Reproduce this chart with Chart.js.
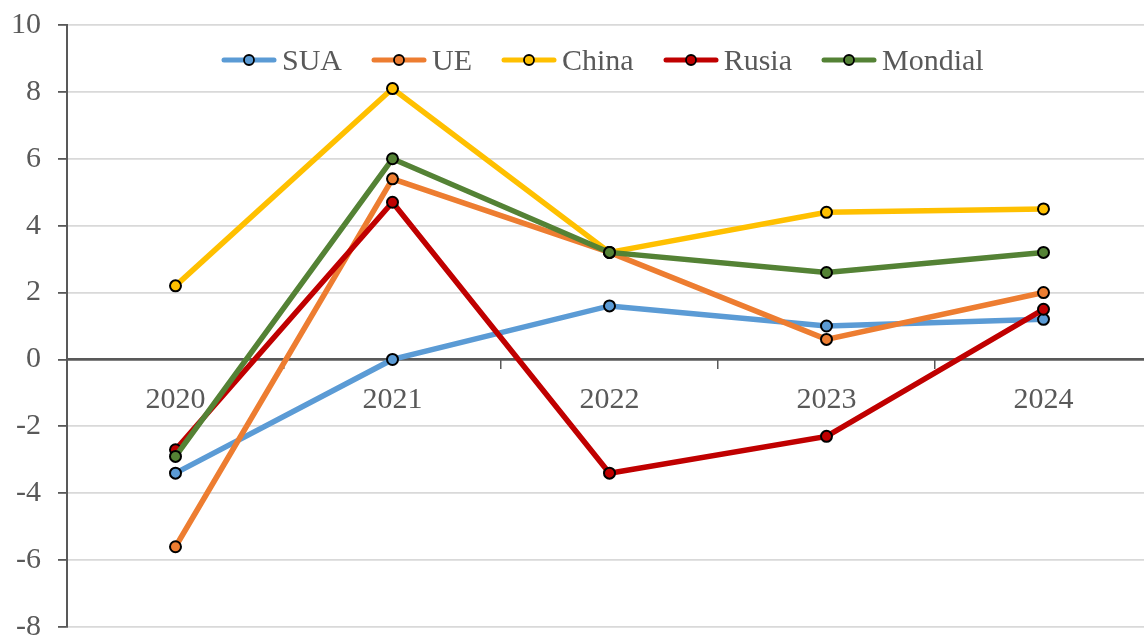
<!DOCTYPE html>
<html>
<head>
<meta charset="utf-8">
<script src="https://cdn.jsdelivr.net/npm/chart.js@4/dist/chart.umd.min.js"></script>
<style>
  html, body { margin: 0; padding: 0; background: #fff; overflow: hidden; }
  #wrap { position: absolute; left: 0; top: 0; width: 1160px; height: 645px; }
  #legend {
    position: absolute; left: 221px; top: 42px; height: 36px;
    display: flex; align-items: center;
    font-family: 'Liberation Serif', 'Times New Roman', serif; font-size: 30px; color: #595959;
  }
  #legend .item { display: flex; align-items: center; margin-right: 29px; }
  #legend svg { margin-right: 5px; }
</style>
</head>
<body>
<div id="wrap"><canvas id="chart"></canvas></div>
<div id="legend"></div>
<script>
// categories and series (annual growth, %)
const years = ['2020', '2021', '2022', '2023', '2024'];
const seriesNames = ['SUA', 'UE', 'China', 'Rusia', 'Mondial'];
const sua = [-3.4, 0.0, 1.6, 1.0, 1.2];
const ue = [-5.6, 5.4, 3.2, 0.6, 2.0];
const china = [2.2, 8.1, 3.2, 4.4, 4.5];
const rusia = [-2.7, 4.7, -3.4, -2.3, 1.5];
const mondial = [-2.9, 6.0, 3.2, 2.6, 3.2];
const colors = ['#5B9BD5', '#ED7D31', '#FFC000', '#C00000', '#548235'];

const yMin = -8, yMax = 10, yStep = 2;
const gray = '#595959';
const font = { family: "'Liberation Serif', 'Times New Roman', serif", size: 30 };

const values = [sua, ue, china, rusia, mondial];

const datasets = values.map((v, i) => ({
    label: seriesNames[i],
    data: v,
    borderColor: colors[i],
    backgroundColor: colors[i],
    borderWidth: 5.5,
    pointRadius: 5.5,
    pointBorderWidth: 2,
    pointBorderColor: '#000',
    pointBackgroundColor: colors[i],
    order: values.length - i   // later series drawn on top, like the original
}));

new Chart(document.getElementById('chart'), {
    type: 'line',
    data: { labels: years, datasets: datasets },
    options: {
        responsive: true,
        maintainAspectRatio: false,
        animation: false,
        layout: { padding: { top: 25, right: 8, bottom: 18, left: 0 } },
        plugins: { legend: { display: false }, tooltip: { enabled: false } },
        scales: {
            x: {
                position: { y: 0 },
                offset: true,
                afterFit: (s) => { s.paddingLeft = 0; s.paddingRight = 0; },
                grid: {
                    offset: true,
                    drawOnChartArea: false,
                    tickLength: 9,
                    color: gray,
                    lineWidth: 1.5
                },
                border: { color: gray, width: 2 },
                ticks: { color: gray, font: font, padding: 14, maxRotation: 0 }
            },
            y: {
                min: yMin,
                max: yMax,
                afterFit: (s) => { s.width = 67; s.paddingTop = 0; s.paddingBottom = 0; },
                grid: {
                    color: (c) => (c.tick && c.tick.value === 0 ? gray : '#D9D9D9'),
                    lineWidth: 1.8,
                    tickLength: 9,
                    tickColor: gray
                },
                border: { color: gray, width: 2 },
                ticks: { stepSize: yStep, color: gray, font: font, padding: 17 }
            }
        }
    }
});

// legend: line with a circle marker, then the name
const legend = document.getElementById('legend');
seriesNames.forEach((name, i) => {
    const item = document.createElement('div');
    item.className = 'item';
    item.innerHTML =
        '<svg width="56" height="14" viewBox="0 0 56 14">' +
        '<line x1="3" y1="7" x2="53" y2="7" stroke="' + colors[i] + '" stroke-width="5" stroke-linecap="round"/>' +
        '<circle cx="28" cy="7" r="5" fill="' + colors[i] + '" stroke="#000" stroke-width="1.8"/>' +
        '</svg><span>' + name + '</span>';
    legend.appendChild(item);
});
</script>
</body>
</html>
